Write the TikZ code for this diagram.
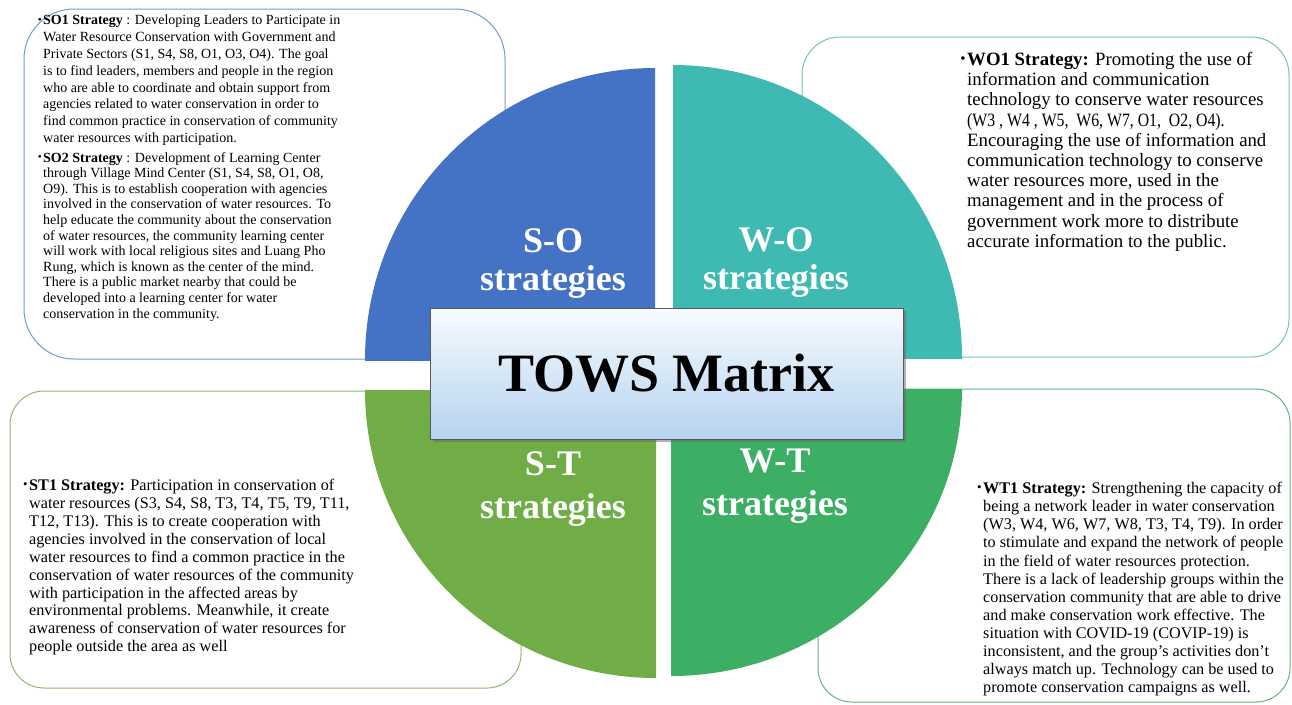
\documentclass[tikz,border=0pt]{standalone}
\usepackage{fontspec}
\setmainfont{Liberation Serif}
\usepackage{graphicx}
\usetikzlibrary{shadows}
\definecolor{qblue}{HTML}{4472C4}
\definecolor{qteal}{HTML}{3FBAB2}
\definecolor{qolive}{HTML}{70AD47}
\definecolor{qgreen}{HTML}{3DAF64}
\definecolor{bblue}{HTML}{7C97D0}
\definecolor{bteal}{HTML}{72C5B7}
\definecolor{bolive}{HTML}{92B674}
\definecolor{bgreen}{HTML}{63B57F}
\definecolor{towstop}{HTML}{F7FBFF}
\definecolor{towsbot}{HTML}{B5D3F0}
\newcommand{\bul}{\llap{\raisebox{0.12em}{\scalebox{0.8}{\textbullet}}\hspace{1.5pt}}}
\begin{document}
\begin{tikzpicture}[x=1pt,y=-1pt,
  stratbox/.style={line width=1pt, fill=white},
  quadlabel/.style={text=white, font=\fontsize{36}{38}\selectfont\bfseries, align=center, inner sep=0pt, anchor=north},
  bodytext/.style={inner sep=0pt, anchor=north west, align=left},
]
\fill[white] (0,0) rectangle (1292,704);
\path[use as bounding box] (0,0) rectangle (1292,704);

% strategy boxes
\draw[stratbox, draw=bblue, rounded corners=50pt] (24,9) rectangle (505,359);
\draw[stratbox, draw=bteal, rounded corners=38pt] (802,37) rectangle (1289,357);
\draw[stratbox, draw=bolive, rounded corners=34pt] (10,391) rectangle (521,688);
\draw[stratbox, draw=bgreen, rounded corners=34pt] (818,389) rectangle (1290,702);

% quadrants
\begin{scope}
\clip (300,0) rectangle (655,360);
\fill[qblue] (655,360) ellipse [x radius=290, y radius=292];
\end{scope}
\begin{scope}
\clip (673,0) rectangle (1000,358);
\fill[qteal] (673,358) ellipse [x radius=289, y radius=293];
\end{scope}
\begin{scope}
\clip (300,390) rectangle (656,704);
\fill[qolive] (656,390) ellipse [x radius=291, y radius=288];
\end{scope}
\begin{scope}
\clip (671,389) rectangle (1000,704);
\fill[qgreen] (671,389) ellipse [x radius=291, y radius=287];
\end{scope}

% quadrant labels
\node[quadlabel] (so) at (553,228) {S-O\\strategies};
\node[quadlabel] (wo) at (776,227) {W-O\\strategies};
\node[quadlabel, font=\fontsize{36}{43}\selectfont\bfseries] (st) at (553,451) {S-T\\strategies};
\node[quadlabel, font=\fontsize{36}{43}\selectfont\bfseries] (wt) at (775,449) {W-T\\strategies};

% centre box
\node[draw=black!65, line width=0.8pt, top color=towstop, bottom color=towsbot,
  minimum width=473pt, minimum height=131pt, inner sep=0pt,
  font=\fontsize{54}{54}\selectfont\bfseries,
  drop shadow={shadow xshift=3pt, shadow yshift=-3pt, fill=black!60}] (tows) at (666.5,373.5) {TOWS Matrix};

% texts
\node[bodytext, font=\fontsize{14}{16.8}\selectfont] (sotexta) at (43,15) {%
\bul\textbf{SO1 Strategy} : Developing Leaders to Participate in\\
Water Resource Conservation with Government and\\
Private Sectors (S1, S4, S8, O1, O3, O4). The goal\\
is to find leaders, members and people in the region\\
who are able to coordinate and obtain support from\\
agencies related to water conservation in order to\\
find common practice in conservation of community\\
water resources with participation.};
\node[bodytext, font=\fontsize{14}{15.6}\selectfont] (sotextb) at (43,152) {%
\bul\textbf{SO2 Strategy} : Development of Learning Center\\
through Village Mind Center (S1, S4, S8, O1, O8,\\
O9). This is to establish cooperation with agencies\\
involved in the conservation of water resources. To\\
help educate the community about the conservation\\
of water resources, the community learning center\\
will work with local religious sites and Luang Pho\\
Rung, which is known as the center of the mind.\\
There is a public market nearby that could be\\
developed into a learning center for water\\
conservation in the community.};

\node[bodytext, font=\fontsize{18.8}{20.2}\selectfont] (wotext) at (967,52) {%
\bul\textbf{WO1 Strategy:} Promoting the use of\\
information and communication\\
technology to conserve water resources\\
\scalebox{0.84}[1]{(W3 , W4 , W5, \ W6, W7, O1, \ O2, O4).}\\
Encouraging the use of information and\\
communication technology to conserve\\
water resources more, used in the\\
management and in the process of\\
government work more to distribute\\
accurate information to the public.};

\node[bodytext, font=\fontsize{16.2}{17.9}\selectfont] (sttext) at (29,479) {%
\bul\textbf{ST1 Strategy:} Participation in conservation of\\
water resources (S3, S4, S8, T3, T4, T5, T9, T11,\\
T12, T13). This is to create cooperation with\\
agencies involved in the conservation of local\\
water resources to find a common practice in the\\
conservation of water resources of the community\\
with participation in the affected areas by\\
environmental problems. Meanwhile, it create\\
awareness of conservation of water resources for\\
people outside the area as well};

\node[bodytext, font=\fontsize{16.2}{18.1}\selectfont] (wttext) at (983,482) {%
\bul\textbf{WT1 Strategy:} Strengthening the capacity of\\
being a network leader in water conservation\\
(W3, W4, W6, W7, W8, T3, T4, T9). In order\\
to stimulate and expand the network of people\\
in the field of water resources protection.\\
There is a lack of leadership groups within the\\
conservation community that are able to drive\\
and make conservation work effective. The\\
situation with COVID-19 (COVIP-19) is\\
inconsistent, and the group's activities don't\\
always match up. Technology can be used to\\
promote conservation campaigns as well.};
\end{tikzpicture}
\end{document}
